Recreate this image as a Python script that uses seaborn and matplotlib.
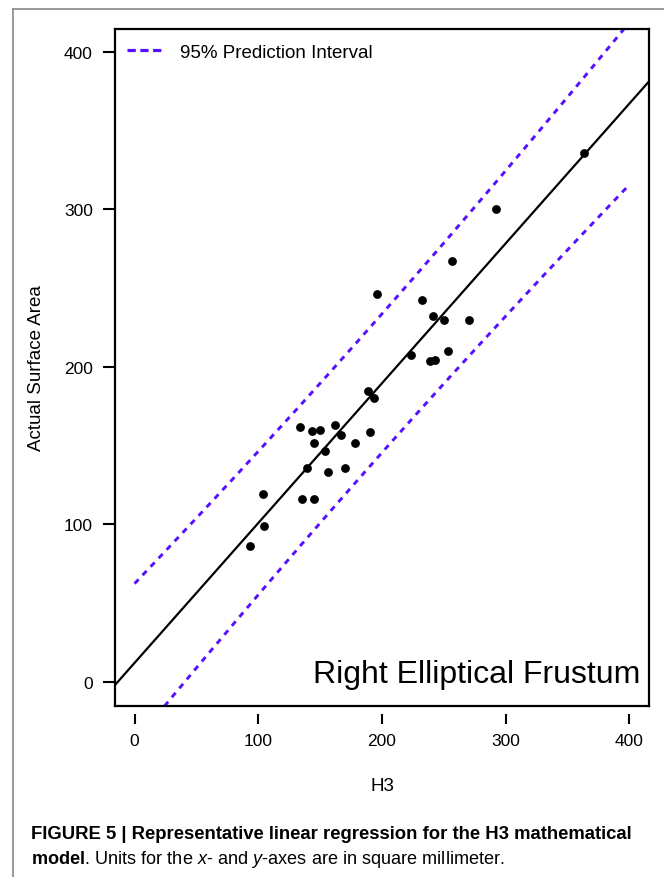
import matplotlib
matplotlib.use("Agg")
import matplotlib.pyplot as plt
from matplotlib.lines import Line2D
import numpy as np
import pandas as pd
import seaborn as sns

# Values
h3 = [93.0, 104.9, 103.6, 135.1, 145.3, 139.1, 156.3, 170.1, 154.2, 145.0,
      133.7, 143.2, 149.6, 162.2, 166.9, 178.4, 188.4, 193.8, 190.1, 196.0,
      223.4, 232.1, 241.5, 250.4, 270.6, 253.6, 238.8, 242.8, 256.3, 292.2,
      363.5]
actual_area = [86.4, 98.9, 119.1, 115.9, 115.9, 135.6, 133.4, 135.8, 146.6,
               151.8, 162.0, 159.1, 160.1, 162.9, 156.7, 151.5, 184.9, 180.1,
               158.4, 246.3, 207.6, 242.3, 232.1, 229.6, 229.6, 210.1, 203.7,
               204.6, 267.1, 300.3, 336.1]
x_ticks = [0, 100, 200, 300, 400]
y_ticks = [0, 100, 200, 300, 400]
t_crit = 2.045  # t(0.975, df=29)

df = pd.DataFrame({"H3": h3, "Actual Surface Area": actual_area})

# OLS fit and 95% prediction interval
x = df["H3"].to_numpy()
y = df["Actual Surface Area"].to_numpy()
n = len(x)
slope, intercept = np.polyfit(x, y, 1)
resid = y - (intercept + slope * x)
s = np.sqrt(np.sum(resid ** 2) / (n - 2))
sxx = np.sum((x - x.mean()) ** 2)
grid = np.linspace(0, 400, 200)
half = t_crit * s * np.sqrt(1 + 1 / n + (grid - x.mean()) ** 2 / sxx)
pi_df = pd.DataFrame({
    "x": grid,
    "upper": intercept + slope * grid + half,
    "lower": intercept + slope * grid - half,
})

sns.set_style("ticks")
plt.rcParams["font.family"] = ["Liberation Sans", "DejaVu Sans"]
plt.rcParams["text.color"] = "black"
plt.rcParams["axes.labelcolor"] = "black"
plt.rcParams["xtick.color"] = "black"
plt.rcParams["ytick.color"] = "black"
plt.rcParams["mathtext.fontset"] = "custom"
plt.rcParams["mathtext.rm"] = "Liberation Sans"
plt.rcParams["mathtext.it"] = "Liberation Sans:italic"
plt.rcParams["mathtext.bf"] = "Liberation Sans:bold"

pi_color = "#5511ff"
dash = (0, (2.0, 2.0))

fig = plt.figure(figsize=(6.64, 8.78), dpi=100)
ax = fig.add_axes([0.1732, 0.1948, 0.8042, 0.7710])
ax.set_xlim(-15.8, 415.8)
ax.set_ylim(-15.4, 414.6)

sns.regplot(data=df, x="H3", y="Actual Surface Area", ax=ax, ci=None,
            truncate=False,
            scatter_kws={"s": 40, "color": "black", "alpha": 1,
                         "linewidths": 0},
            line_kws={"color": "black", "lw": 1.6})
sns.lineplot(data=pi_df, x="x", y="upper", ax=ax, color=pi_color, lw=2.1,
             linestyle=dash)
sns.lineplot(data=pi_df, x="x", y="lower", ax=ax, color=pi_color, lw=2.1,
             linestyle=dash)

for sp in ax.spines.values():
    sp.set_visible(True)
    sp.set_linewidth(1.6)
    sp.set_color("black")

ax.set_yticks(y_ticks)
ax.tick_params(axis="y", direction="out", length=9, width=1.5, pad=7,
               labelsize=12.5)
ax.tick_params(axis="x", length=0, labelbottom=False)

# x ticks sit a little below the frame
sec = ax.secondary_xaxis(-8 / 677)
sec.set_xticks(x_ticks)
sec.spines["bottom"].set_visible(False)
sec.tick_params(direction="out", length=7, width=1.5, pad=7, labelsize=12.5)

ax.set_xlabel("H3", fontsize=13.5)
ax.set_ylabel("Actual Surface Area", fontsize=13.5)
ax.xaxis.set_label_coords(0.5, -0.105)
ax.yaxis.set_label_coords(-0.131, 0.5)

handle = Line2D([], [], color=pi_color, lw=2.3, linestyle=(0, (2.6, 1.4)))
ax.legend([handle], ["95% Prediction Interval"], loc="center left",
          bbox_to_anchor=(0.0225, 0.966), frameon=False, fontsize=13.5,
          handlelength=2.0, handletextpad=0.8, borderpad=0, borderaxespad=0)

ax.text(0.983, 0.035, "Right Elliptical Frustum", transform=ax.transAxes,
        ha="right", va="baseline", fontsize=23)

# outer figure border (left and top)
fig.add_artist(Line2D([13 / 664, 13 / 664], [0, 1 - 9.5 / 878],
                      transform=fig.transFigure, color="#888888", lw=1.2))
fig.add_artist(Line2D([13 / 664, 1], [1 - 9.5 / 878, 1 - 9.5 / 878],
                      transform=fig.transFigure, color="#888888", lw=1.2))

fig.text(31 / 664, 1 - 839 / 878,
         "FIGURE 5 | Representative linear regression for the H3 mathematical",
         fontsize=13.3, fontweight="bold", va="baseline", ha="left")
fig.text(31 / 664, 1 - 864 / 878,
         r"$\mathbf{model}$. Units for the $\mathit{x}$- and $\mathit{y}$-axes are in square millimeter.",
         fontsize=13.1, va="baseline", ha="left")

fig.savefig("out.png", dpi=100)
